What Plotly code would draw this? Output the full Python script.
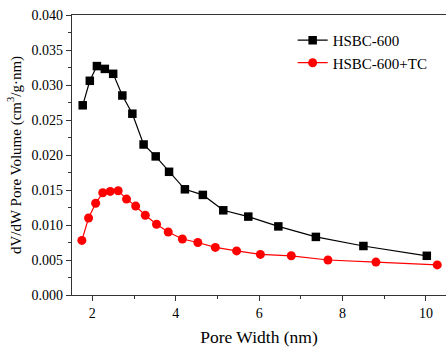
import plotly.graph_objects as go

# HSBC-600 (black squares)
x_a = [1.77, 1.94, 2.11, 2.30, 2.50, 2.72, 2.96, 3.23, 3.52, 3.84, 4.22, 4.65, 5.14, 5.74, 6.46, 7.36, 8.50, 10.02]
y_a = [0.0271, 0.0306, 0.0327, 0.0323, 0.0316, 0.0285, 0.0259, 0.0215, 0.0198, 0.0176, 0.0151, 0.0143, 0.0121, 0.0112, 0.0098, 0.0083, 0.0070, 0.0056]

# HSBC-600+TC (red circles)
x_b = [1.75, 1.91, 2.08, 2.25, 2.43, 2.62, 2.82, 3.04, 3.27, 3.54, 3.82, 4.16, 4.53, 4.95, 5.46, 6.03, 6.77, 7.65, 8.80, 10.27]
y_b = [0.0078, 0.0110, 0.0131, 0.0146, 0.0148, 0.0149, 0.0137, 0.0127, 0.0114, 0.0101, 0.0090, 0.0080, 0.0075, 0.0068, 0.0063, 0.0058, 0.0056, 0.0050, 0.0047, 0.0043]

name_a = "HSBC-600"
name_b = "HSBC-600+TC"
y_ticks = [0.000, 0.005, 0.010, 0.015, 0.020, 0.025, 0.030, 0.035, 0.040]
x_ticks = [2, 4, 6, 8, 10]

FONT = "Liberation Serif"
AX = "#333333"

fig = go.Figure()
fig.add_trace(go.Scatter(x=x_a, y=y_a, name=name_a, mode="lines+markers",
                         line=dict(color="black", width=1.2),
                         marker=dict(symbol="square", size=8.5, color="black")))
fig.add_trace(go.Scatter(x=x_b, y=y_b, name=name_b, mode="lines+markers",
                         line=dict(color="#ff0000", width=1.2),
                         marker=dict(symbol="circle", size=9, color="#ff0000")))

fig.update_layout(
    width=446, height=354,
    margin=dict(l=72, r=0, t=15, b=59),
    paper_bgcolor="white", plot_bgcolor="white",
    font=dict(family=FONT, size=14, color="black"),
    showlegend=True,
    legend=dict(x=0.59, y=0.968, xanchor="left", yanchor="top",
                bgcolor="rgba(0,0,0,0)", font=dict(family=FONT, size=15, color="black"),
                tracegroupgap=0, itemwidth=30),
    xaxis=dict(range=[1.513, 10.48], tickvals=x_ticks, ticktext=[str(v) for v in x_ticks],
               showgrid=False, zeroline=False, showline=True, linecolor=AX, linewidth=1.3,
               mirror=True, ticks="outside", ticklen=5, tickwidth=1.2, tickcolor=AX,
               minor=dict(dtick=1, tick0=1, ticks="outside", ticklen=3, tickwidth=1, tickcolor=AX),
               title=dict(text="Pore Width (nm)", font=dict(family=FONT, size=17.5, color="black"), standoff=10),
               tickfont=dict(family=FONT, size=14, color="black")),
    yaxis=dict(range=[0, 0.040], tickvals=y_ticks, ticktext=[f"{v:.3f}" for v in y_ticks],
               showgrid=False, zeroline=False, showline=True, linecolor=AX, linewidth=1.3,
               mirror=False, ticks="outside", ticklen=5, tickwidth=1.2, tickcolor=AX,
               minor=dict(dtick=0.0025, tick0=0, ticks="outside", ticklen=3, tickwidth=1, tickcolor=AX),
               title=dict(text="dV/dW Pore Volume (cm<sup>3</sup>/g·nm)", font=dict(family=FONT, size=15, color="black"), standoff=6),
               tickfont=dict(family=FONT, size=14, color="black")),
)

fig.write_html("out.html")
